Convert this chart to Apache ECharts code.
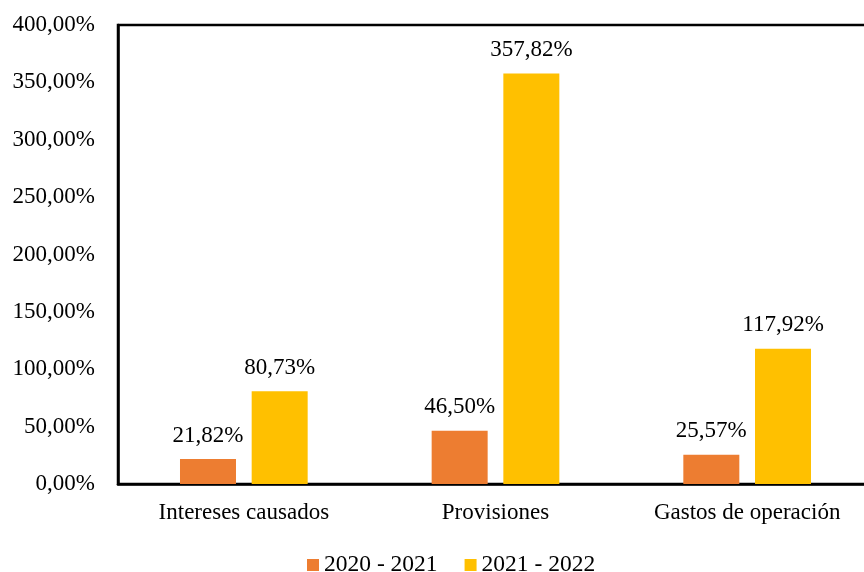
<!DOCTYPE html>
<html>
<head>
<meta charset="utf-8">
<script src="https://cdn.jsdelivr.net/npm/echarts@6/dist/echarts.min.js"></script>
<style>
  html, body { margin: 0; padding: 0; background: #fff; }
  #chart { width: 864px; height: 572px; }
</style>
</head>
<body>
<div id="chart"></div>
<script>
// Categories and percentage variations per period
const categories = ['Intereses causados', 'Provisiones', 'Gastos de operación'];
const seriesNames = ['2020 - 2021', '2021 - 2022'];
const values2021 = [21.82, 46.50, 25.57];
const values2022 = [80.73, 357.82, 117.92];
const seriesColors = ['#ED7D31', '#FFC000'];

const font = 'Liberation Serif, Times New Roman, serif';
const fontSize = 23;
const fmt = v => v.toFixed(2).replace('.', ',') + '%';

const chart = echarts.init(document.getElementById('chart'));

function makeSeries(name, data, color) {
  return {
    name: name,
    type: 'bar',
    data: data,
    barWidth: 56,
    barGap: '28%',
    itemStyle: { color: color },
    label: {
      show: true,
      position: 'top',
      distance: 12,
      color: '#000',
      fontFamily: font,
      fontSize: fontSize,
      formatter: p => fmt(p.value)
    }
  };
}

chart.setOption({
  animation: false,
  textStyle: { fontFamily: font },
  grid: {
    left: 118, width: 755, top: 25, height: 459,
    outerBoundsMode: 'none',
    show: true, borderColor: '#000', borderWidth: 2.5
  },
  xAxis: {
    type: 'category',
    data: categories,
    axisLine: { show: true, lineStyle: { color: '#000', width: 2.5 } },
    axisTick: { show: false },
    axisLabel: { color: '#000', fontFamily: font, fontSize: fontSize, margin: 17 }
  },
  yAxis: {
    type: 'value',
    min: 0, max: 400, interval: 50,
    axisLine: { show: true, lineStyle: { color: '#000', width: 2.5 } },
    axisTick: { show: false },
    splitLine: { show: false },
    axisLabel: {
      color: '#000', fontFamily: font, fontSize: fontSize, margin: 23,
      formatter: v => fmt(v)
    }
  },
  legend: {
    top: 548,
    left: 302,
    itemWidth: 12, itemHeight: 12, itemGap: 27,
    icon: 'rect',
    textStyle: { color: '#000', fontFamily: font, fontSize: 23.5 },
    data: seriesNames
  },
  series: [
    makeSeries(seriesNames[0], values2021, seriesColors[0]),
    makeSeries(seriesNames[1], values2022, seriesColors[1])
  ]
});
</script>
</body>
</html>
